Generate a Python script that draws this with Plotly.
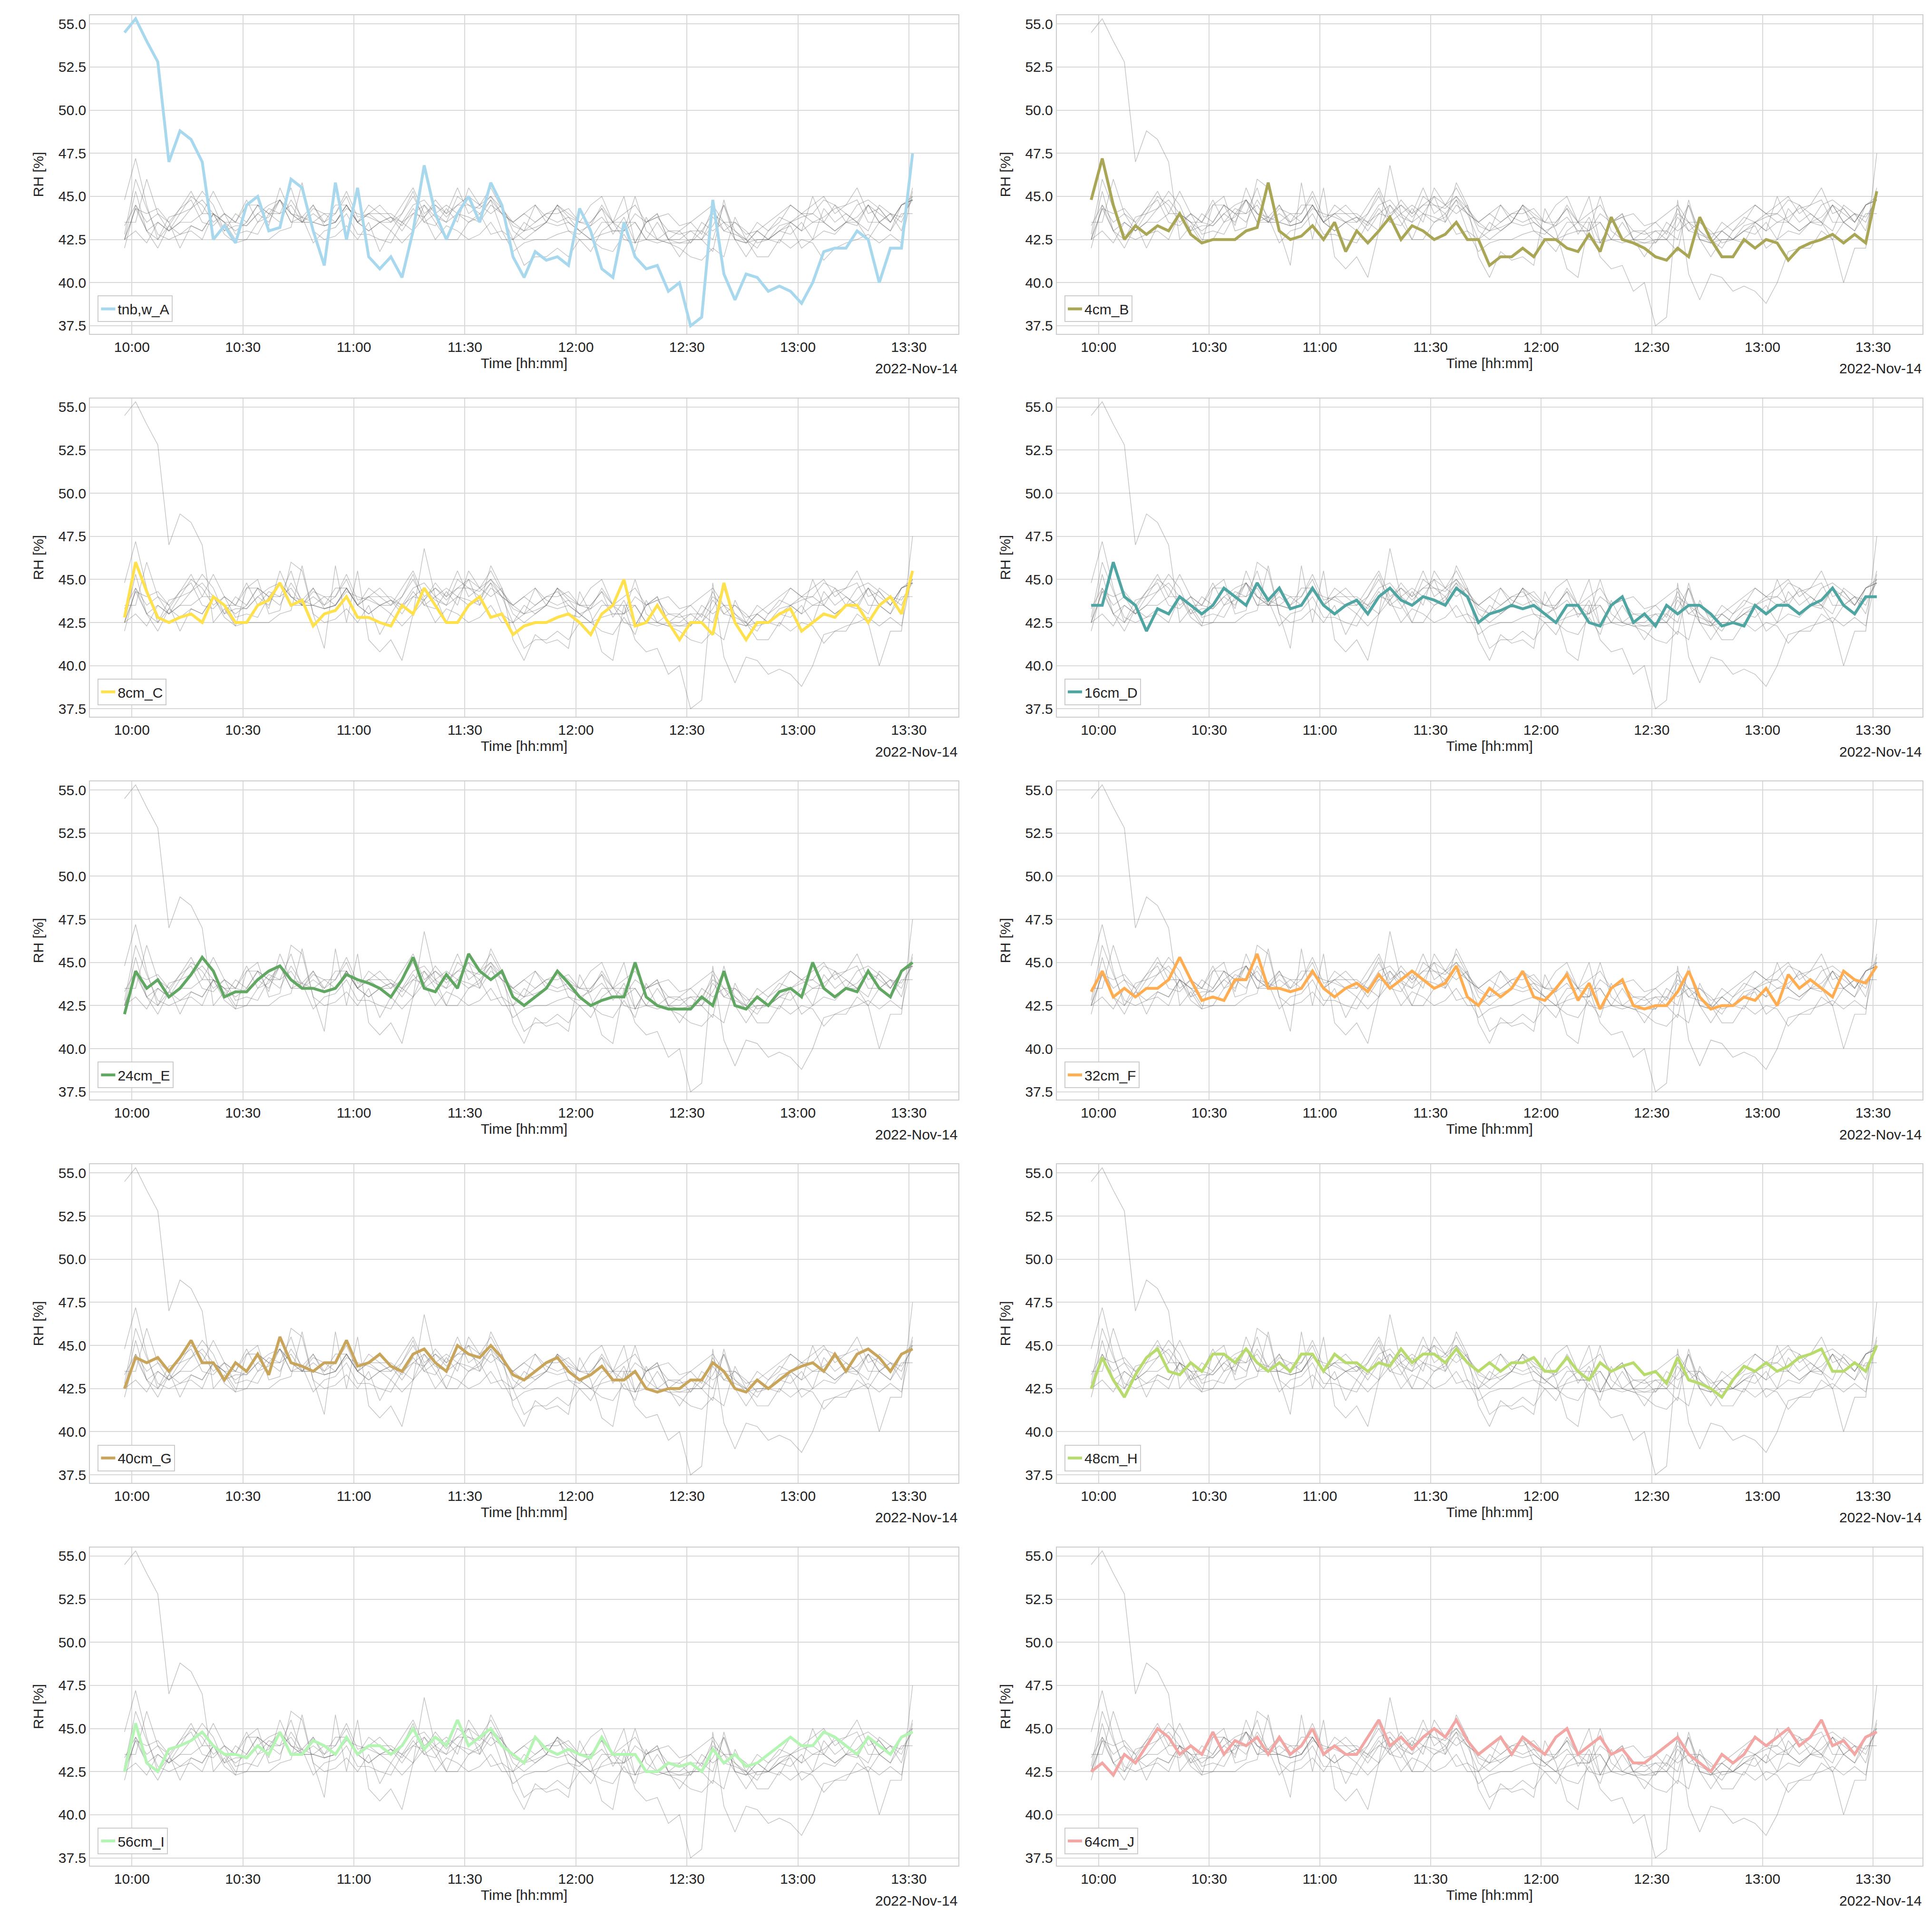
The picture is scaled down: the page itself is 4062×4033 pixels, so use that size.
import pandas as pd
import plotly.graph_objects as go

times = pd.date_range("2022-11-14 09:58", periods=72, freq="3min")

names = ["tnb,w_A", "4cm_B", "8cm_C", "16cm_D", "24cm_E", "32cm_F", "40cm_G", "48cm_H", "56cm_I", "64cm_J"]
colors = ["#a8d8ee", "#a9a655", "#ffe04d", "#4fa5a1", "#60a862", "#ffad50", "#c9a55b", "#b7dc6d", "#b4f5b4", "#f3a7a4"]

rh_A = [54.5,55.3,54.0,52.8,47.0,48.8,48.3,47.0, 42.5,43.3,42.3,44.5,45.0,43.0,43.2,46.0,
        45.5,43.0,41.0,45.8,42.5,45.5,41.5,40.8, 41.5,40.3,43.0,46.8,44.0,42.5,44.0,45.0,
        43.5,45.8,44.5,41.5,40.3,41.8,41.3,41.5, 41.0,44.3,43.0,40.8,40.3,43.5,41.5,40.8,
        41.0,39.5,40.0,37.5,38.0,44.8,40.5,39.0, 40.5,40.3,39.5,39.8,39.5,38.8,40.0,41.8,
        42.0,42.0,43.0,42.5,40.0,42.0,42.0,47.5]
rh_B = [44.8,47.2,44.5,42.5,43.3,42.8,43.3,43.0, 44.0,42.8,42.3,42.5,42.5,42.5,43.0,43.2,
        45.8,43.0,42.5,42.7,43.3,42.5,43.5,41.8, 43.0,42.3,43.0,43.8,42.5,43.3,43.0,42.5,
        42.8,43.5,42.5,42.5,41.0,41.5,41.5,42.0, 41.5,42.5,42.5,42.0,41.8,42.8,41.8,43.8,
        42.5,42.3,42.0,41.5,41.3,42.0,41.5,43.8, 42.5,41.5,41.5,42.5,42.0,42.5,42.3,41.3,
        42.0,42.3,42.5,42.8,42.3,42.8,42.3,45.3]
rh_C = [42.8,46.0,44.3,42.8,42.5,42.8,43.0,42.5, 44.0,43.5,42.5,42.5,43.5,43.8,44.8,43.5,
        43.8,42.3,43.0,43.2,44.0,42.8,42.8,42.5, 42.3,43.5,43.0,44.5,43.5,42.5,42.5,43.5,
        44.0,42.8,43.0,41.8,42.3,42.5,42.5,42.8, 43.0,42.5,41.8,43.0,43.5,45.0,42.3,42.5,
        43.5,42.5,41.5,42.5,42.5,41.8,44.8,42.5, 41.5,42.5,42.5,43.0,43.3,42.0,42.5,43.0,
        42.8,43.5,43.5,42.5,43.5,44.0,43.0,45.5]
rh_D = [43.5,43.5,46.0,44.0,43.5,42.0,43.3,43.0, 44.0,43.5,43.0,43.5,44.5,44.0,43.5,44.8,
        43.8,44.5,43.3,43.5,44.5,43.5,43.0,43.5, 43.8,43.0,44.0,44.5,43.8,43.5,44.0,43.8,
        43.5,44.5,44.0,42.5,43.0,43.2,43.5,43.3, 43.5,43.0,42.5,43.5,43.5,42.5,42.3,43.5,
        44.0,42.5,43.0,42.3,43.5,43.0,43.5,43.5, 43.0,42.3,42.5,42.3,43.5,43.0,43.5,43.5,
        43.0,43.5,43.8,44.5,43.5,43.0,44.0,44.0]
rh_E = [42.0,44.5,43.5,44.0,43.0,43.5,44.3,45.3, 44.5,43.0,43.3,43.3,44.0,44.5,44.8,44.0,
        43.5,43.5,43.3,43.5,44.3,44.0,43.8,43.5, 43.0,44.0,45.3,43.5,43.3,44.3,43.5,45.5,
        44.5,44.0,44.5,43.0,42.5,43.0,43.5,44.5, 43.8,43.0,42.5,42.8,43.0,43.0,45.0,43.0,
        42.5,42.3,42.3,42.3,43.0,42.5,44.5,42.5, 42.3,43.0,42.5,43.3,43.5,43.0,45.0,43.5,
        43.0,43.5,43.3,44.5,43.5,43.0,44.5,45.0]
rh_F = [43.3,44.5,43.0,43.5,43.0,43.5,43.5,44.0, 45.3,44.0,42.8,43.0,42.8,44.0,44.0,45.5,
        43.5,43.5,43.3,43.5,44.5,43.5,43.0,43.5, 43.8,43.3,44.3,43.5,44.0,44.5,44.0,43.5,
        43.8,44.8,43.0,42.5,43.5,43.0,43.5,44.5, 43.0,42.8,43.5,44.3,42.8,43.8,42.3,43.5,
        44.0,42.5,42.3,42.5,42.5,43.3,44.5,43.0, 42.3,42.5,42.5,43.0,42.8,43.5,42.5,44.3,
        43.5,44.0,43.5,43.0,44.5,44.0,43.8,44.8]
rh_G = [42.5,44.3,44.0,44.3,43.5,44.3,45.3,44.0, 44.0,43.0,44.0,43.5,44.5,43.3,45.5,44.0,
        43.8,43.5,44.0,44.0,45.3,43.8,44.0,44.5, 43.8,43.5,44.5,44.8,44.0,43.5,45.0,44.5,
        44.3,45.0,44.3,43.3,43.0,43.5,44.0,44.3, 43.5,43.0,43.3,43.8,43.0,43.0,43.5,42.5,
        42.3,42.5,42.5,43.0,43.0,44.0,43.5,42.5, 42.3,43.0,42.5,43.0,43.5,43.8,44.0,43.5,
        44.5,43.5,44.5,44.8,44.3,43.5,44.5,44.8]
rh_H = [42.5,44.3,43.0,42.0,43.3,44.3,44.8,43.5, 43.3,44.0,43.5,44.5,44.5,44.0,44.8,44.0,
        43.5,44.0,43.5,44.5,44.5,43.5,44.5,44.0, 44.0,43.5,44.0,43.8,44.8,44.0,44.5,44.5,
        44.0,44.8,44.0,43.5,44.0,43.5,44.0,44.0, 44.3,43.5,43.5,44.3,43.5,43.0,44.0,43.5,
        43.8,44.0,43.3,43.5,42.8,44.3,43.0,42.8, 42.5,42.0,43.0,43.8,43.5,44.0,43.5,43.8,
        44.3,44.5,44.8,43.5,43.5,44.0,43.5,45.0]
rh_I = [42.5,45.3,43.0,42.5,43.8,44.0,44.3,44.8, 44.0,43.5,43.5,43.3,44.0,43.5,44.8,43.5,
        43.5,44.3,44.0,43.5,44.5,43.5,44.0,44.0, 43.5,44.0,45.0,43.8,44.5,44.0,45.5,44.0,
        44.5,45.0,44.0,43.5,43.0,44.5,43.8,43.5, 43.8,43.5,43.3,44.5,43.5,43.5,43.5,42.5,
        42.5,43.0,42.8,43.0,42.5,43.8,43.0,43.5, 42.8,43.0,43.5,44.0,44.5,44.0,44.0,44.8,
        44.5,44.0,43.5,44.5,44.0,43.5,44.5,44.8]
rh_J = [42.5,43.0,42.3,43.5,43.0,44.0,45.0,44.5, 43.5,44.0,43.5,44.8,43.5,44.3,44.0,44.5,
        43.5,44.5,43.5,44.0,45.0,43.5,44.0,43.5, 43.5,44.5,45.5,44.0,44.5,43.8,44.5,45.0,
        44.5,45.5,44.3,43.5,44.0,44.5,43.5,44.5, 44.0,43.5,44.5,45.0,43.5,44.0,44.5,43.5,
        43.8,43.0,43.0,43.5,44.0,44.5,43.5,43.0, 42.5,43.5,43.0,43.5,44.5,44.0,44.5,45.0,
        44.0,44.5,45.5,44.0,44.3,43.5,44.5,44.8]

series = [rh_A, rh_B, rh_C, rh_D, rh_E, rh_F, rh_G, rh_H, rh_I, rh_J]
yticks = [37.5, 40.0, 42.5, 45.0, 47.5, 50.0, 52.5, 55.0]

FONT = "Liberation Sans, Arial, sans-serif"
FS = 30
fig = go.Figure()
layout = dict(width=4062, height=4033, paper_bgcolor="white", plot_bgcolor="white",
              margin=dict(l=0, r=0, t=0, b=0), font=dict(family=FONT, size=FS, color="#222"))
xdoms = [(0.0446, 0.494), (0.545, 0.993)]
annotations = []
for k in range(10):
    r, c = divmod(k, 2)
    top = 0.994 - 0.1997 * r
    bot = 0.828 - 0.1997 * r
    idx = k + 1
    xa = "x" if idx == 1 else f"x{idx}"
    ya = "y" if idx == 1 else f"y{idx}"
    for j in range(10):
        if j == k:
            continue
        fig.add_trace(go.Scatter(x=times, y=series[j], mode="lines", xaxis=xa, yaxis=ya,
                                 line=dict(color="rgba(100,100,100,0.4)", width=1.4),
                                 showlegend=False, hoverinfo="skip"))
    lg = "legend" if idx == 1 else f"legend{idx}"
    fig.add_trace(go.Scatter(x=times, y=series[k], mode="lines", xaxis=xa, yaxis=ya,
                             name=names[k], line=dict(color=colors[k], width=6),
                             legend=lg))
    xkey = "xaxis" if idx == 1 else f"xaxis{idx}"
    ykey = "yaxis" if idx == 1 else f"yaxis{idx}"
    layout[xkey] = dict(domain=list(xdoms[c]), anchor=ya,
                        range=["2022-11-14 09:48:40", "2022-11-14 13:43:20"],
                        tickformat="%H:%M", dtick=30 * 60 * 1000, tick0="2022-11-14 10:00",
                        showgrid=True, gridcolor="#d9d9d9", gridwidth=2,
                        showline=True, linecolor="#cccccc", linewidth=2, mirror=True,
                        zeroline=False, ticks="", tickfont=dict(size=FS),
                        title=dict(text="Time [hh:mm]", font=dict(size=FS), standoff=8))
    layout[ykey] = dict(domain=[bot, top], anchor=xa, range=[37.04, 55.5],
                        tickvals=yticks, ticktext=[f"{v:.1f}" for v in yticks],
                        showgrid=True, gridcolor="#d9d9d9", gridwidth=2,
                        showline=True, linecolor="#cccccc", linewidth=2, mirror=True,
                        zeroline=False, ticks="", tickfont=dict(size=FS),
                        title=dict(text="RH [%]", font=dict(size=FS), standoff=22))
    layout[lg] = dict(x=xdoms[c][0] + 0.004, y=bot + 0.006, xanchor="left", yanchor="bottom",
                      bgcolor="rgba(255,255,255,0.9)", bordercolor="#cccccc", borderwidth=2,
                      font=dict(size=FS))
    annotations.append(dict(text="2022-Nov-14", xref="paper", yref="paper", x=xdoms[c][1], y=bot - 0.0135,
                            xanchor="right", yanchor="top", showarrow=False, font=dict(size=FS)))
layout["annotations"] = annotations
fig.update_layout(**layout)
fig.write_html("out.html")
